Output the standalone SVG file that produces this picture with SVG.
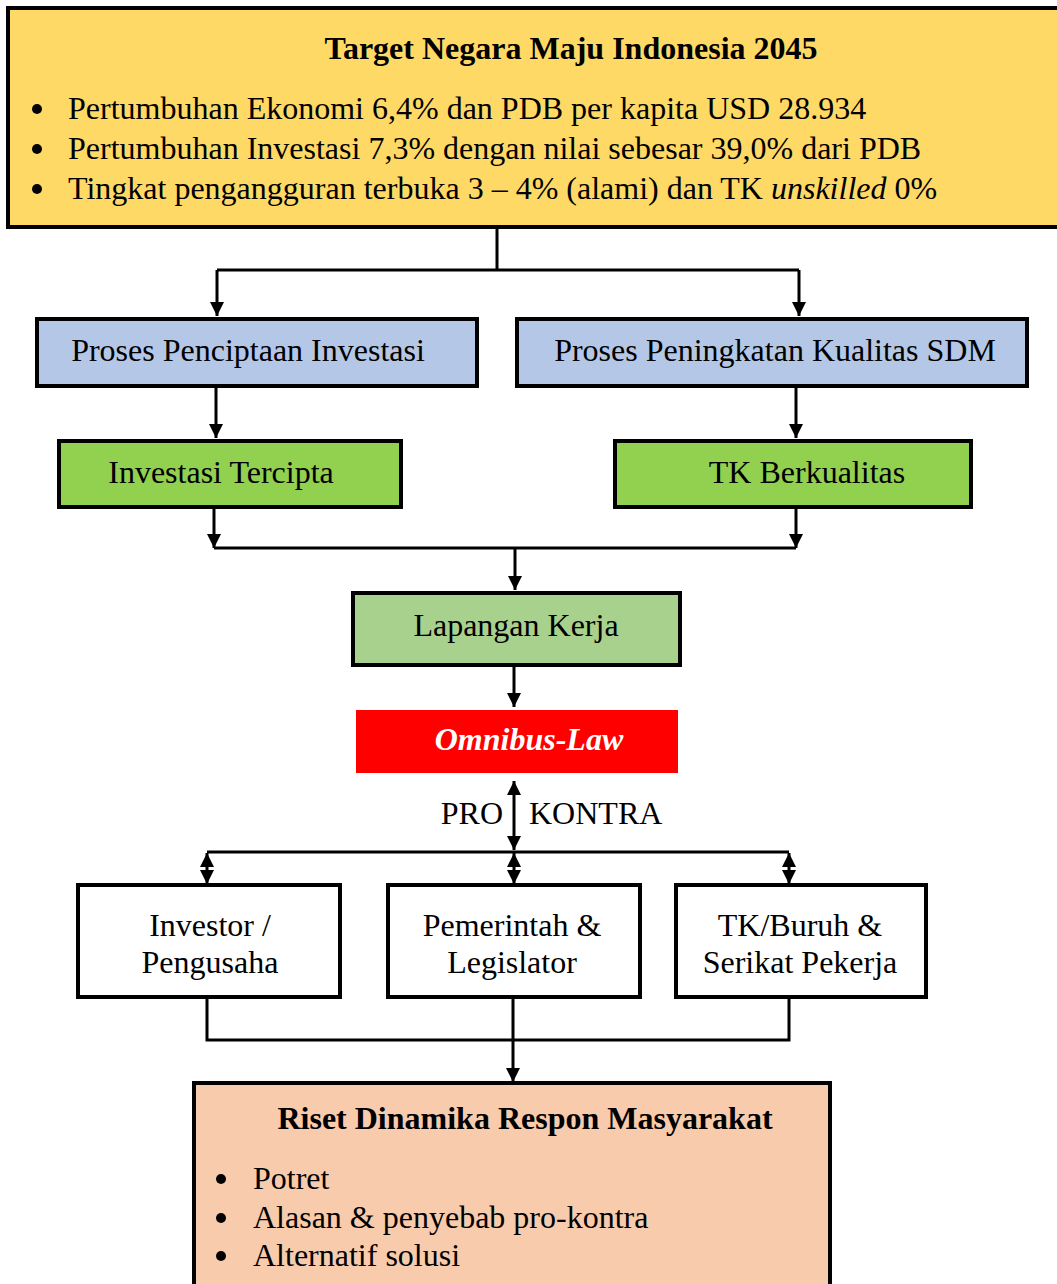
<svg xmlns="http://www.w3.org/2000/svg" width="1057" height="1284" viewBox="0 0 1057 1284">
<style>
text{font-family:"Liberation Serif","Times New Roman",serif;font-size:32px;fill:#000}
.b{font-weight:bold}
.c{text-anchor:middle}
.box{stroke:#000;stroke-width:4}
.ln{fill:none;stroke:#000;stroke-width:3}
</style>
<defs>
<marker id="a" viewBox="0 0 12 12" refX="12" refY="6" markerWidth="16" markerHeight="14" orient="auto-start-reverse" markerUnits="userSpaceOnUse">
<path d="M0,0 L12,6 L0,12 z" fill="#000"/>
</marker>
</defs>
<rect width="1057" height="1284" fill="#fff"/>
<g id="connectors">
<path class="ln" d="M497,227 V270 M217,270 H799"/>
<path class="ln" d="M217,270 V316" marker-end="url(#a)"/>
<path class="ln" d="M799,270 V316" marker-end="url(#a)"/>
<path class="ln" d="M216,386 V438" marker-end="url(#a)"/>
<path class="ln" d="M796,386 V438" marker-end="url(#a)"/>
<path class="ln" d="M214,508 V548" marker-end="url(#a)"/>
<path class="ln" d="M796,508 V548" marker-end="url(#a)"/>
<path class="ln" d="M214,548 H796"/>
<path class="ln" d="M515,548 V590" marker-end="url(#a)"/>
<path class="ln" d="M514,666 V707" marker-end="url(#a)"/>
<path class="ln" d="M514,781 V850" marker-start="url(#a)" marker-end="url(#a)"/>
<path class="ln" d="M207,852 H789"/>
<path class="ln" d="M207,853 V884" marker-start="url(#a)" marker-end="url(#a)"/>
<path class="ln" d="M514,853 V884" marker-start="url(#a)" marker-end="url(#a)"/>
<path class="ln" d="M789,853 V884" marker-start="url(#a)" marker-end="url(#a)"/>
<path class="ln" d="M207,998 V1040 H789 V998 M513,998 V1040"/>
<path class="ln" d="M513,1040 V1082" marker-end="url(#a)"/>
<text x="503" y="824" text-anchor="end">PRO</text>
<text x="529" y="824">KONTRA</text>
</g>
<g id="target">
<rect class="box" x="8" y="8" width="1055" height="219" fill="#FFD966"/>
<text class="b c" x="571" y="59">Target Negara Maju Indonesia 2045</text>
<circle cx="37" cy="109" r="5"/><circle cx="37" cy="149" r="5"/><circle cx="37" cy="189" r="5"/>
<text x="68" y="119">Pertumbuhan Ekonomi 6,4% dan PDB per kapita USD 28.934</text>
<text x="68" y="159">Pertumbuhan Investasi 7,3% dengan nilai sebesar 39,0% dari PDB</text>
<text x="68" y="199">Tingkat pengangguran terbuka 3 – 4% (alami) dan TK <tspan font-style="italic">unskilled</tspan> 0%</text>
</g>
<g id="proses-investasi">
<rect class="box" x="37" y="319" width="440" height="67" fill="#B4C7E7"/>
<text class="c" x="248" y="361">Proses Penciptaan Investasi</text>
</g>
<g id="proses-sdm">
<rect class="box" x="517" y="319" width="510" height="67" fill="#B4C7E7"/>
<text class="c" x="775" y="361">Proses Peningkatan Kualitas SDM</text>
</g>
<g id="investasi-tercipta">
<rect class="box" x="59" y="441" width="342" height="66" fill="#92D050"/>
<text class="c" x="221" y="483">Investasi Tercipta</text>
</g>
<g id="tk-berkualitas">
<rect class="box" x="615" y="441" width="356" height="66" fill="#92D050"/>
<text class="c" x="807" y="483">TK Berkualitas</text>
</g>
<g id="lapangan-kerja">
<rect class="box" x="353" y="593" width="327" height="72" fill="#A9D18E"/>
<text class="c" x="516" y="636">Lapangan Kerja</text>
</g>
<g id="omnibus">
<rect x="356" y="710" width="322" height="63" fill="#FF0000"/>
<text class="b c" x="529" y="750" font-style="italic" style="fill:#fff">Omnibus-Law</text>
</g>
<g id="investor">
<rect class="box" x="78" y="885" width="262" height="112" fill="#fff"/>
<text class="c" x="210" y="936">Investor /</text>
<text class="c" x="210" y="973">Pengusaha</text>
</g>
<g id="pemerintah">
<rect class="box" x="388" y="885" width="252" height="112" fill="#fff"/>
<text class="c" x="512" y="936">Pemerintah &amp;</text>
<text class="c" x="512" y="973">Legislator</text>
</g>
<g id="buruh">
<rect class="box" x="676" y="885" width="250" height="112" fill="#fff"/>
<text class="c" x="800" y="936">TK/Buruh &amp;</text>
<text class="c" x="800" y="973">Serikat Pekerja</text>
</g>
<g id="riset">
<rect class="box" x="194" y="1083" width="636" height="220" fill="#F8CBAD"/>
<text class="b c" x="525" y="1129">Riset Dinamika Respon Masyarakat</text>
<circle cx="221" cy="1179" r="5"/><circle cx="221" cy="1218" r="5"/><circle cx="221" cy="1256" r="5"/>
<text x="253" y="1189">Potret</text>
<text x="253" y="1228">Alasan &amp; penyebab pro-kontra</text>
<text x="253" y="1266">Alternatif solusi</text>
</g>
</svg>
